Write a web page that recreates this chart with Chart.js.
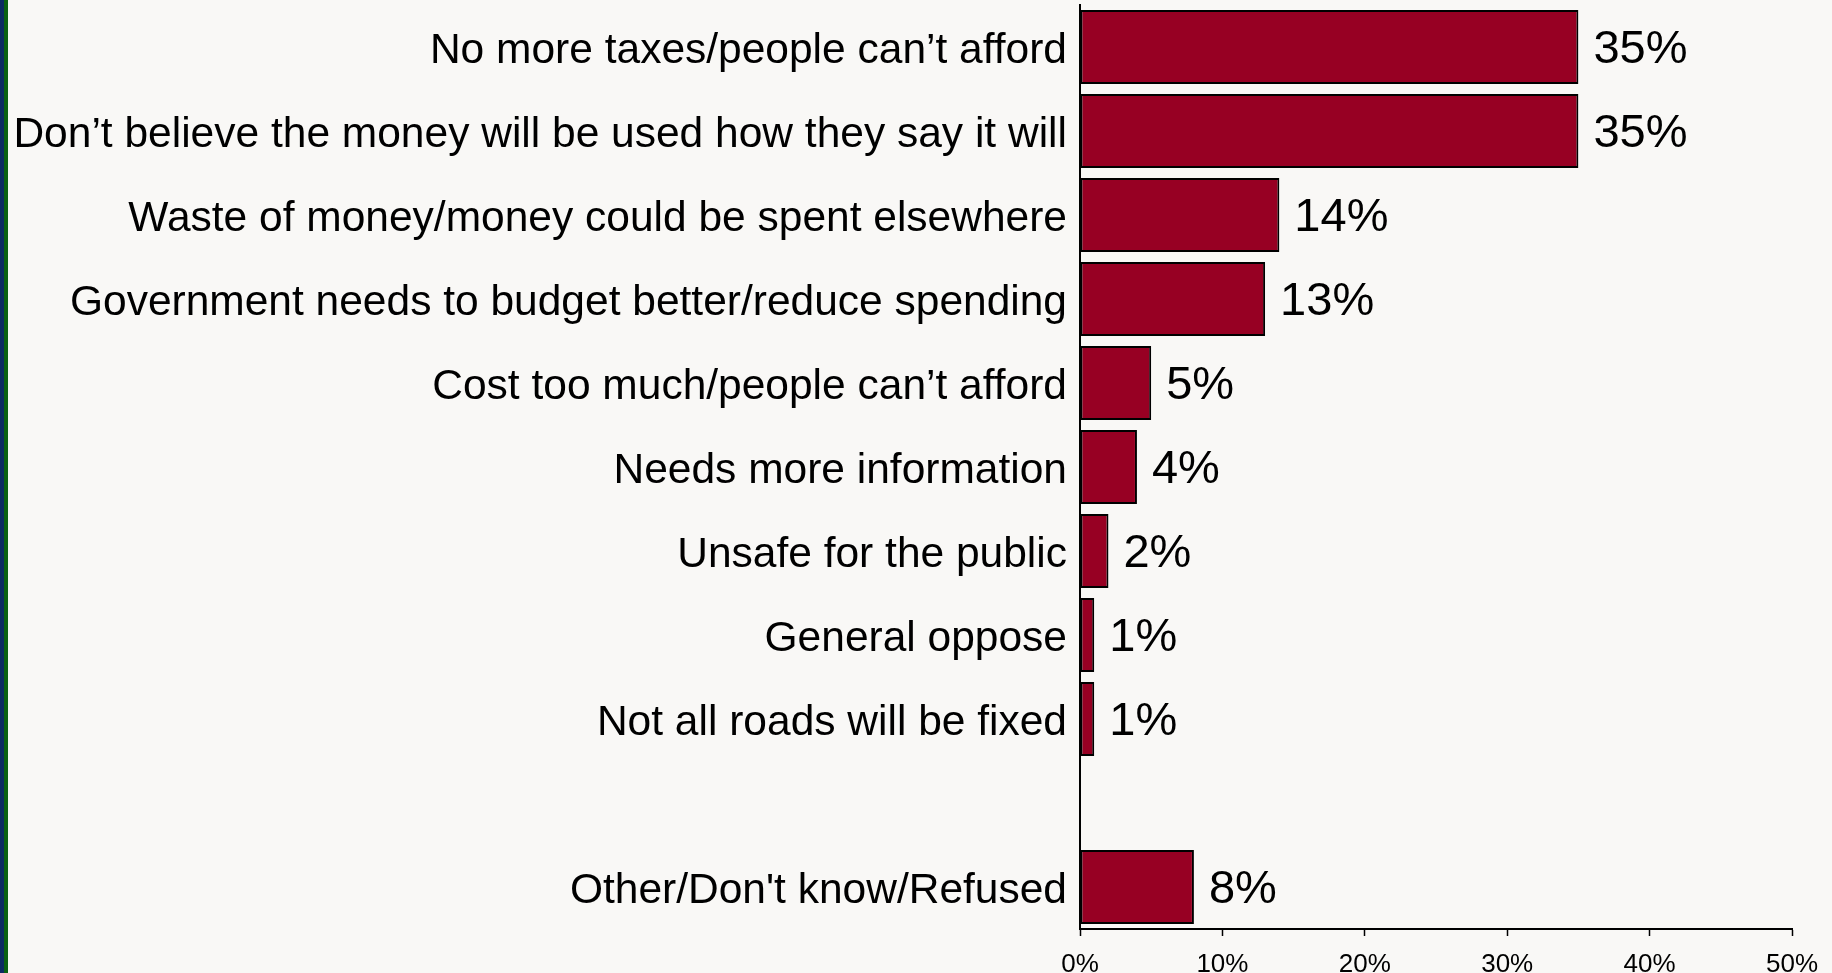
<!DOCTYPE html>
<html>
<head>
<meta charset="utf-8">
<script src="https://cdn.jsdelivr.net/npm/chart.js@4.4.1/dist/chart.umd.min.js"></script>
<style>
  html, body { margin: 0; padding: 0; background: #f9f8f6; overflow: hidden; }
  #wrap { position: relative; width: 1832px; height: 973px; }
  #stripeBlue { position: absolute; left: 0; top: 0; width: 4px; height: 973px; background: #0d2a63; }
  #stripeGreen { position: absolute; left: 4px; top: 0; width: 4px; height: 973px; background: #0b6113; }
  canvas { position: absolute; left: 0; top: 0; }
</style>
</head>
<body>
<div id="wrap">
  <div id="stripeBlue"></div>
  <div id="stripeGreen"></div>
  <canvas id="c" width="1832" height="973"></canvas>
</div>
<script>
const categories = [
  "No more taxes/people can\u2019t afford",
  "Don\u2019t believe the money will be used how they say it will",
  "Waste of money/money could be spent elsewhere",
  "Government needs to budget better/reduce spending",
  "Cost too much/people can\u2019t afford",
  "Needs more information",
  "Unsafe for the public",
  "General oppose",
  "Not all roads will be fixed",
  "",
  "Other/Don't know/Refused"
];
const values = [35, 35, 14, 13, 5, 4, 2, 1, 1, null, 8];
const tickValues = [0, 10, 20, 30, 40, 50];

const valueLabels = {
  id: 'valueLabels',
  afterDatasetsDraw(chart) {
    const ctx = chart.ctx;
    const meta = chart.getDatasetMeta(0);
    ctx.save();
    ctx.font = '47px "Liberation Sans", Arial, sans-serif';
    ctx.fillStyle = '#000';
    ctx.textAlign = 'left';
    ctx.textBaseline = 'middle';
    meta.data.forEach((bar, i) => {
      const v = values[i];
      if (v === null || v === undefined) return;
      ctx.fillText(v + '%', bar.x + 15, bar.y + 3);
    });
    ctx.restore();
  }
};

new Chart(document.getElementById('c'), {
  type: 'bar',
  data: {
    labels: categories,
    datasets: [{
      data: values,
      backgroundColor: '#970023',
      borderColor: '#000000',
      borderWidth: 2,
      borderSkipped: false,
      barPercentage: 0.88,
      categoryPercentage: 1.0
    }]
  },
  options: {
    indexAxis: 'y',
    responsive: false,
    animation: false,
    devicePixelRatio: 1,
    layout: { padding: { left: 0, right: 40, top: 5, bottom: 0 } },
    plugins: { legend: { display: false }, tooltip: { enabled: false } },
    scales: {
      x: {
        min: 0, max: 50,
        afterBuildTicks(scale) { scale.ticks = tickValues.map(v => ({ value: v })); },
        afterFit(scale) { scale.height = 44; scale.paddingLeft = 0; scale.paddingRight = 0; },
        grid: { drawOnChartArea: false, drawTicks: true, tickLength: 7, color: '#000', tickWidth: 1.5 },
        border: { display: true, color: '#000', width: 2 },
        ticks: {
          color: '#000',
          padding: 13,
          maxRotation: 0,
          font: { family: '"Liberation Sans", Arial, sans-serif', size: 26 },
          callback: (v) => v + '%'
        }
      },
      y: {
        afterFit(scale) { scale.width = 1080; scale.paddingTop = 0; scale.paddingBottom = 0; },
        grid: { display: true, drawOnChartArea: false, drawTicks: false },
        border: { display: true, color: '#000', width: 2 },
        ticks: {
          color: '#000',
          padding: 13,
          labelOffset: 4,
          autoSkip: false,
          font: { family: '"Liberation Sans", Arial, sans-serif', size: 42.5 }
        }
      }
    }
  },
  plugins: [valueLabels]
});
</script>
</body>
</html>
